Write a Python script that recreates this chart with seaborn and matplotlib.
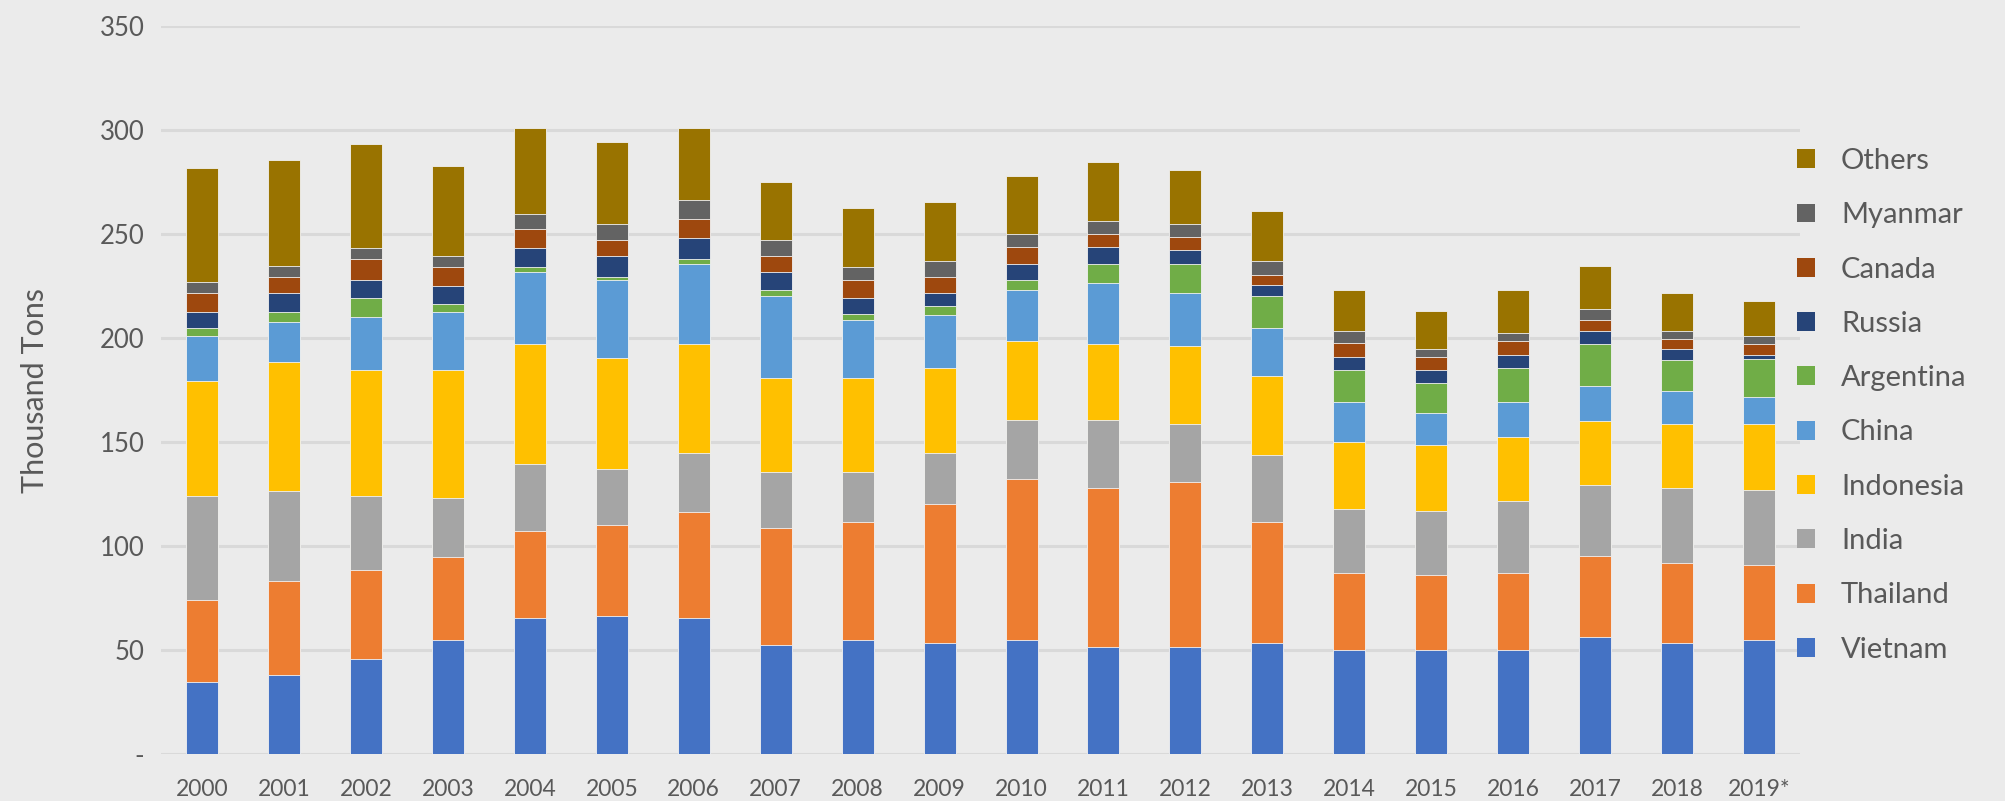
#!/usr/bin/env python3
"""Stacked bar chart: thousand tons by origin country, 2000-2019*."""

import matplotlib

matplotlib.use("Agg")
import matplotlib.pyplot as plt
from matplotlib.patches import Patch
import numpy as np
import seaborn as sns

YEARS = [
    "2000", "2001", "2002", "2003", "2004", "2005", "2006", "2007", "2008", "2009",
    "2010", "2011", "2012", "2013", "2014", "2015", "2016", "2017", "2018", "2019*",
]

# stacked from bottom to top
SERIES = ["Vietnam", "Thailand", "India", "Indonesia", "China",
          "Argentina", "Russia", "Canada", "Myanmar", "Others"]

vietnam = [34.4, 38.1, 45.8, 55.0, 65.2, 66.5, 65.2, 52.3, 55.0, 53.5,
           54.9, 51.2, 51.2, 53.6, 49.8, 49.8, 49.8, 56.3, 53.6, 55.0]
thailand = [39.8, 45.2, 42.5, 39.8, 42.1, 43.5, 51.3, 56.5, 56.3, 66.9,
            77.1, 76.9, 79.4, 57.8, 37.4, 36.1, 37.4, 38.7, 38.4, 36.1]
india = [50.0, 43.2, 35.9, 28.1, 32.3, 26.9, 28.1, 26.8, 24.3, 24.5,
         28.4, 32.3, 28.2, 32.3, 30.7, 30.7, 34.6, 34.4, 36.1, 35.7]
indonesia = [55.0, 61.8, 60.2, 61.5, 57.5, 53.7, 52.5, 45.0, 45.0, 40.8,
             38.2, 36.9, 37.3, 38.1, 31.9, 31.9, 30.8, 30.7, 30.7, 32.0]
china = [21.8, 19.2, 25.8, 28.1, 34.6, 37.3, 38.7, 39.6, 28.2, 25.5,
         24.4, 29.3, 25.7, 23.2, 19.2, 15.6, 16.4, 16.7, 15.6, 12.8]
argentina = [4.0, 5.0, 8.8, 4.0, 2.5, 1.3, 2.3, 2.7, 2.7, 4.2,
             5.0, 9.1, 13.9, 15.4, 15.6, 14.1, 16.7, 20.4, 15.2, 18.2]
russia = [7.5, 9.0, 8.9, 8.7, 9.1, 10.4, 10.2, 8.8, 7.5, 6.2,
          7.7, 7.9, 6.4, 4.9, 6.1, 6.2, 6.3, 6.2, 5.0, 2.1]
canada = [9.0, 7.9, 10.0, 9.0, 9.0, 7.5, 9.0, 7.9, 8.9, 7.7,
          7.9, 6.2, 6.4, 5.1, 6.7, 6.3, 6.7, 5.4, 5.1, 5.3]
myanmar = [5.2, 5.0, 5.4, 5.4, 7.5, 7.7, 9.0, 7.5, 6.3, 7.8,
           6.2, 6.4, 6.5, 6.5, 6.2, 3.9, 3.7, 5.0, 3.9, 3.9]
others = [55.0, 51.2, 50.0, 43.3, 41.0, 39.6, 34.5, 28.1, 28.3, 28.2,
          28.2, 28.4, 25.7, 24.3, 19.3, 18.2, 20.5, 20.8, 18.0, 16.6]

COLORS = {
    "Vietnam": "#4472C4",
    "Thailand": "#ED7D31",
    "India": "#A5A5A5",
    "Indonesia": "#FFC000",
    "China": "#5B9BD5",
    "Argentina": "#70AD47",
    "Russia": "#264478",
    "Canada": "#9E480E",
    "Myanmar": "#636363",
    "Others": "#997300",
}

Y_TICKS = [0, 50, 100, 150, 200, 250, 300, 350]
Y_TICK_LABELS = ["-", "50", "100", "150", "200", "250", "300", "350"]

BG = "#EBEBEB"
TEXT = "#595959"
GRID = "#D9D9D9"


def main() -> None:
    sns.set_theme(style="white", rc={
        "figure.facecolor": BG,
        "axes.facecolor": BG,
        "savefig.facecolor": BG,
    })
    plt.rcParams["font.family"] = ["Lato", "DejaVu Sans"]

    values = np.array([vietnam, thailand, india, indonesia, china,
                       argentina, russia, canada, myanmar, others])
    cum = np.cumsum(values, axis=0)

    fig = plt.figure(figsize=(20.05, 8.01), dpi=100)
    ax = fig.add_axes([0.0803, 0.0587, 0.8175, 0.9088])

    # draw the tallest cumulative layer first, lower layers on top of it
    for i in range(len(SERIES) - 1, -1, -1):
        sns.barplot(
            x=YEARS, y=cum[i], color=COLORS[SERIES[i]], saturation=1,
            width=0.39, errorbar=None, ax=ax,
            edgecolor="#F2F2F2", linewidth=0.6, zorder=3,
        )

    ax.set_ylim(0, 350)
    ax.set_xlim(-0.5, len(YEARS) - 0.5)
    ax.set_yticks(Y_TICKS, Y_TICK_LABELS)
    ax.yaxis.grid(True, color=GRID, linewidth=2.2, zorder=0)
    ax.set_axisbelow(True)
    for sp in ax.spines.values():
        sp.set_visible(False)
    ax.tick_params(axis="both", length=0, colors=TEXT)
    ax.tick_params(axis="y", labelsize=18.5, pad=12)
    ax.tick_params(axis="x", labelsize=16.5, pad=18)
    ax.set_xlabel("")
    ax.set_ylabel("Thousand Tons", fontsize=22, color=TEXT, labelpad=36)

    handles = [Patch(facecolor=COLORS[s], edgecolor="none", label=s)
               for s in reversed(SERIES)]
    fig.legend(
        handles=handles, loc="center left", bbox_to_anchor=(0.883, 0.494),
        frameon=False, fontsize=21, labelcolor=TEXT,
        handlelength=0.62, handleheight=0.62, handletextpad=0.9,
        labelspacing=0.97,
    )

    fig.savefig("out.png", dpi=100, facecolor=BG)
    plt.close(fig)


if __name__ == "__main__":
    main()
